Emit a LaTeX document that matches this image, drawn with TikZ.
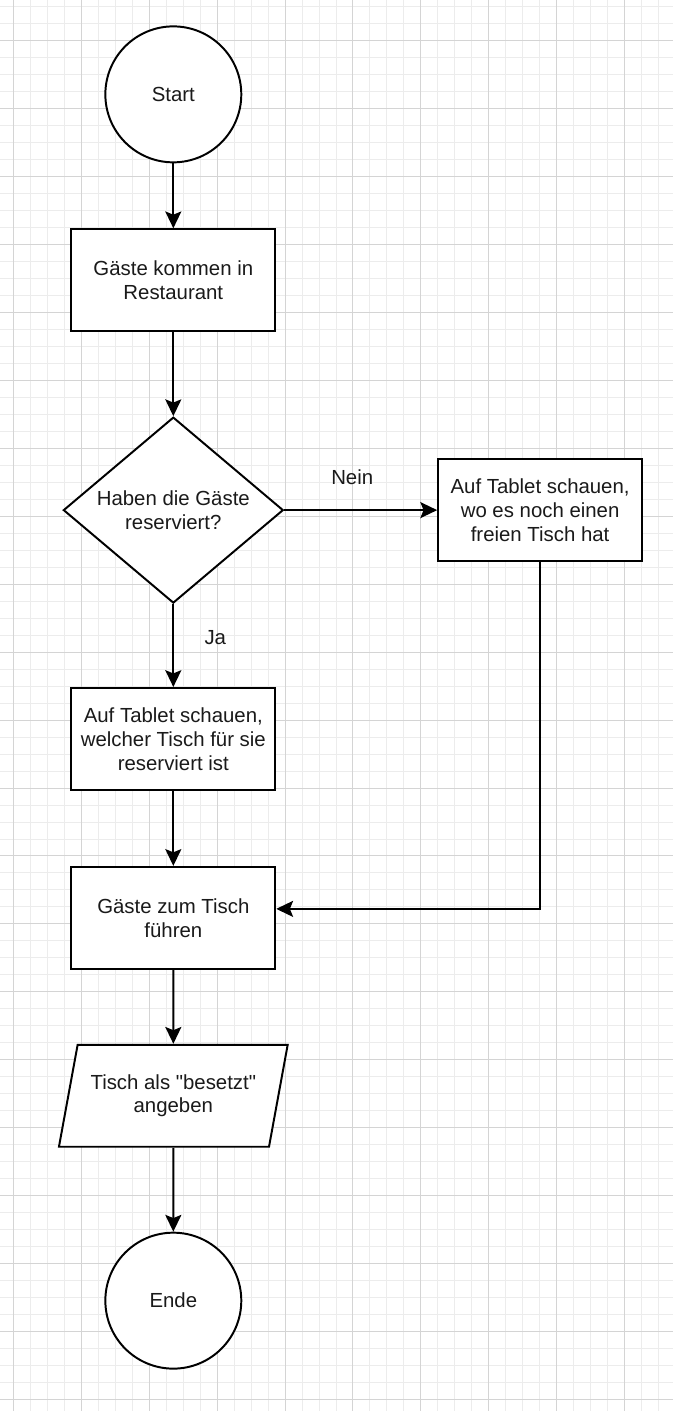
\documentclass[tikz,border=0pt]{standalone}
\usepackage{fontspec}
\setmainfont{Liberation Sans}[Ligatures=TeXOff]
\usetikzlibrary{arrows.meta}
\usetikzlibrary{shapes.geometric}
\definecolor{gridminor}{RGB}{236,236,236}
\definecolor{gridmajor}{RGB}{212,212,212}
\definecolor{inktext}{RGB}{26,26,26}

\begin{document}
\begin{tikzpicture}[x=0.025cm, y=-0.025cm,
    every node/.style={font=\fontsize{14.5}{17}\selectfont, text=inktext},
    terminal/.style={draw, circle, line width=1.4pt, fill=white, minimum size=3.4cm, inner sep=0pt},
    process/.style={draw, rectangle, line width=1.4pt, fill=white, minimum width=5.1cm, minimum height=2.55cm, align=center, inner sep=2pt},
    decision/.style={draw, diamond, aspect=1.18, line width=1.4pt, fill=white, minimum width=5.5cm, minimum height=4.65cm, align=center, inner sep=0pt},
    inout/.style={draw, trapezium, trapezium left angle=71, trapezium right angle=109, trapezium stretches=true, line width=1.4pt, fill=white, minimum width=5.725cm, minimum height=2.55cm, align=center, inner sep=2pt},
    flow/.style={line width=1.4pt, -{Stealth[length=0.42cm, width=0.4cm, inset=0.08cm]}}]

    % background grid
    \fill[white] (0,0) rectangle (673,1411);
    \foreach \gx in {12.7,29.7,...,672} \draw[gridminor, line width=0.6pt] (\gx,0) -- (\gx,1411);
    \foreach \gy in {6,23,...,1411}     \draw[gridminor, line width=0.6pt] (0,\gy) -- (673,\gy);
    \foreach \gx in {12.7,80.7,...,672} \draw[gridmajor, line width=0.6pt] (\gx,0) -- (\gx,1411);
    \foreach \gy in {40,108,...,1411}   \draw[gridmajor, line width=0.6pt] (0,\gy) -- (673,\gy);
    \useasboundingbox (0,0) rectangle (673,1411);

    \node[terminal] (start)   at (173,94)   {Start};
    \node[process]  (arrive)  at (173,280)  {Gäste kommen in\\Restaurant};
    \node[decision] (booked)  at (173,510)  {Haben die Gäste\\reserviert?};
    \node[process]  (freetab) at (540,510)  {Auf Tablet schauen,\\wo es noch einen\\freien Tisch hat};
    \node[process]  (restab)  at (173,739)  {Auf Tablet schauen,\\welcher Tisch für sie\\reserviert ist};
    \node[process]  (guide)   at (173,918)  {Gäste zum Tisch\\führen};
    \node[inout]    (mark)    at (173,1096) {Tisch als "besetzt"\\angeben};
    \node[terminal] (stop)    at (173,1301) {Ende};

    \node (nein) at (352,477) {Nein};
    \node (ja)   at (215,638) {Ja};

    \draw[flow] (start) -- (arrive);
    \draw[flow] (arrive) -- (booked);
    \draw[flow] (booked.east) -- (freetab.west);
    \draw[flow] (booked.south) -- (restab.north);
    \draw[flow] (restab) -- (guide);
    \draw[flow] (freetab.south) |- ([yshift=0.225cm]guide.east);
    \draw[flow] (guide) -- (mark);
    \draw[flow] (mark) -- (stop);
  \end{tikzpicture}
\end{document}
